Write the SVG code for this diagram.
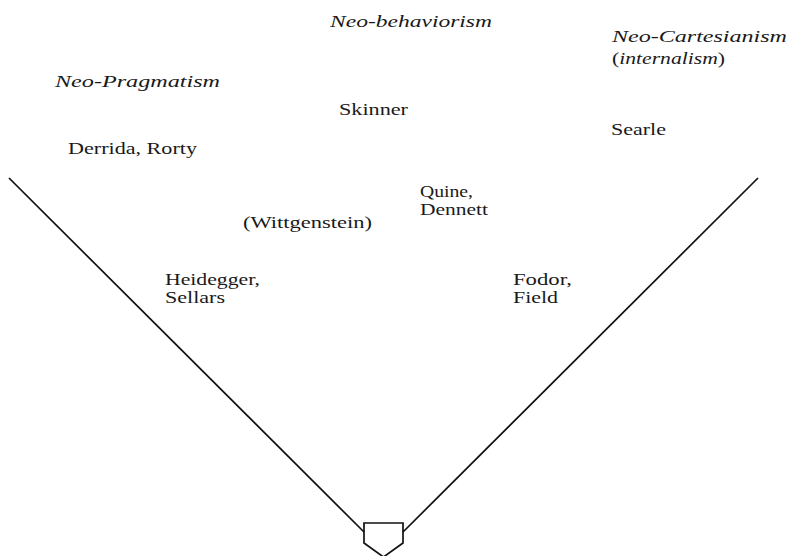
<svg xmlns="http://www.w3.org/2000/svg" width="789" height="556" viewBox="0 0 789 556">
<style>
.t{font-family:"Liberation Serif","Times New Roman",serif;font-size:16px;fill:#1a1a1a}
.i{font-style:italic}
.ln{stroke:#111;stroke-width:1.7;fill:none}
</style>
<rect width="789" height="556" fill="#fff"/>
<g id="connectors">
<line class="ln" x1="9" y1="178" x2="364" y2="532"/>
<line class="ln" x1="758" y1="178" x2="403" y2="532"/>
</g>
<g id="home-plate">
<path class="ln" d="M364,523 H403 V543 L383.5,557 L364,543 Z"/>
</g>
<g id="neo-behaviorism"><text class="t i" x="330" y="27" textLength="162" lengthAdjust="spacingAndGlyphs">Neo-behaviorism</text></g>
<g id="neo-pragmatism"><text class="t i" x="55" y="87" textLength="165" lengthAdjust="spacingAndGlyphs">Neo-Pragmatism</text></g>
<g id="neo-cartesianism">
<text class="t i" x="612" y="42" textLength="175" lengthAdjust="spacingAndGlyphs">Neo-Cartesianism</text>
<text class="t" x="612" y="64" textLength="113" lengthAdjust="spacingAndGlyphs">(<tspan class="i">internalism</tspan>)</text>
</g>
<g id="skinner"><text class="t" x="339" y="115" textLength="69" lengthAdjust="spacingAndGlyphs">Skinner</text></g>
<g id="searle"><text class="t" x="611" y="135" textLength="55" lengthAdjust="spacingAndGlyphs">Searle</text></g>
<g id="derrida-rorty"><text class="t" x="68" y="154" textLength="129" lengthAdjust="spacingAndGlyphs">Derrida, Rorty</text></g>
<g id="quine-dennett">
<text class="t" x="420" y="197" textLength="53" lengthAdjust="spacingAndGlyphs">Quine,</text>
<text class="t" x="420" y="215" textLength="68" lengthAdjust="spacingAndGlyphs">Dennett</text>
</g>
<g id="wittgenstein"><text class="t" x="243" y="228" textLength="129" lengthAdjust="spacingAndGlyphs">(Wittgenstein)</text></g>
<g id="heidegger-sellars">
<text class="t" x="165" y="285" textLength="95" lengthAdjust="spacingAndGlyphs">Heidegger,</text>
<text class="t" x="165" y="303" textLength="60" lengthAdjust="spacingAndGlyphs">Sellars</text>
</g>
<g id="fodor-field">
<text class="t" x="513" y="285" textLength="59" lengthAdjust="spacingAndGlyphs">Fodor,</text>
<text class="t" x="513" y="303" textLength="45" lengthAdjust="spacingAndGlyphs">Field</text>
</g>
</svg>
